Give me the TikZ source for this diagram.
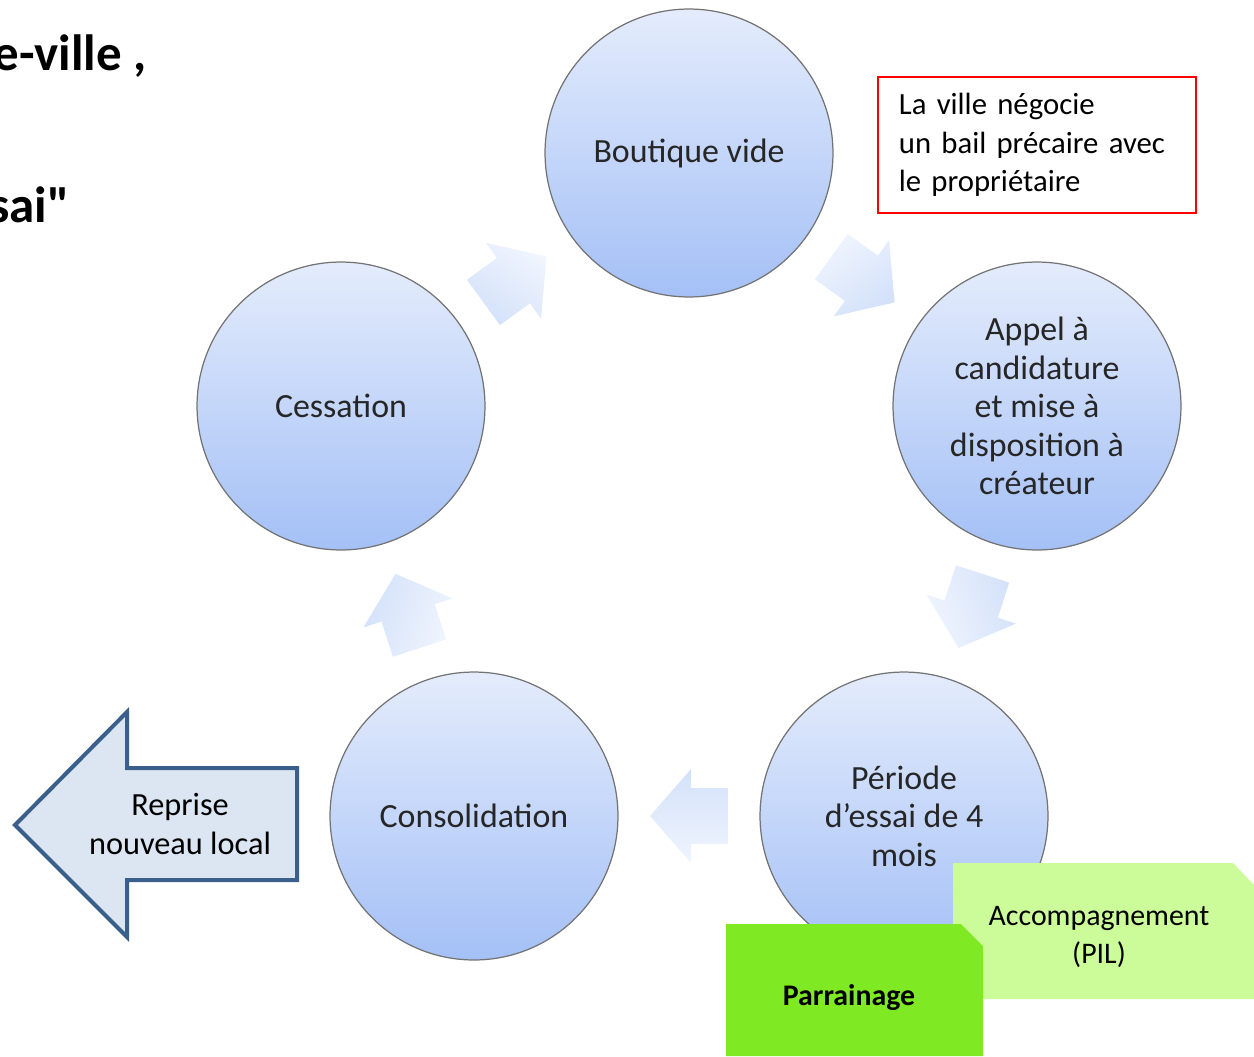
\documentclass[tikz,border=0pt]{standalone}
\usepackage{fontspec}
\setmainfont{Carlito}
\newfontfamily\titlefont{Carlito}[Ligatures=TeXOff]
\usetikzlibrary{calc}

\definecolor{circtop}{HTML}{E4ECFC}
\definecolor{circbot}{HTML}{A4C0F6}
\definecolor{arrtop}{HTML}{F0F5FE}
\definecolor{arrbot}{HTML}{D3E1F9}
\definecolor{reprfill}{HTML}{DCE6F2}
\definecolor{reprdraw}{HTML}{3A5F8B}
\definecolor{accfill}{HTML}{CCFC9A}
\definecolor{parfill}{HTML}{7FEA24}

\tikzset{
	stepcirc/.style={circle, minimum size=5.76cm, inner sep=0pt, top color=circtop, bottom color=circbot, draw=black!55, line width=0.7pt, align=center, font=\fontsize{19.3}{21.9}\selectfont, text=black!85},
	cycarrow/.style={top color=arrtop, bottom color=arrbot, draw=none},
	boxtext/.style={font=\fontsize{17}{21.9}\selectfont, align=center, inner sep=0pt},
	titletext/.style={anchor=base east, font=\titlefont\fontsize{29}{30}\selectfont\bfseries}
}

\begin{document}
\begin{tikzpicture}[x=0.02cm, y=-0.02cm]
	\useasboundingbox (0,0) rectangle (1254,1056);
	\clip (0,0) rectangle (1254,1056);

	%Title (cut off on the left)
	\node[titletext] (titleA) at (153,70) {e-ville ,};
	\node[titletext] (titleB) at (5,146) {e};
	\node[titletext] (titleC) at (76,222) {sai"};

	%Steps
	\node[stepcirc] (boutique) at (689,153) {Boutique vide};
	\node[stepcirc] (appel) at (1037,406) {Appel à\\candidature\\et mise à\\disposition à\\créateur};
	\node[stepcirc] (periode) at (904,816) {Période\\d’essai de 4\\mois};
	\node[stepcirc] (conso) at (474,816) {Consolidation};
	\node[stepcirc] (cessation) at (341,406) {Cessation};

	%Arrows
	\foreach \a/\b/\ang in {boutique/appel/-36, appel/periode/-108, periode/conso/180, conso/cessation/108, cessation/boutique/36}{
		\begin{scope}[shift={($(\a)!0.5!(\b)$)}, rotate=\ang]
			\shade[cycarrow, shading angle=-\ang] (-39,-28) -- (-2,-28) -- (-2,-47) -- (39,0) -- (-2,47) -- (-2,28) -- (-39,28) -- cycle;
		\end{scope}
	}

	%Note
	\node[draw=red, line width=1pt, anchor=north west, minimum width=6.36cm, minimum height=2.72cm, text width=5.52cm, inner xsep=0.42cm, align=left, font=\fontsize{17.5}{21.9}\selectfont] (note) at (877,76) {La ville négocie\\un bail précaire avec\\le propriétaire};

	%Reprise
	\draw[draw=reprdraw, fill=reprfill, line width=0.08cm, line join=miter] (15,825) -- (127,712) -- (127,768) -- (297,768) -- (297,880) -- (127,880) -- (127,937) -- cycle;
	\node[boxtext, font=\fontsize{18.4}{21.9}\selectfont] (reprise) at (180,824) {Reprise\\nouveau local};

	%Support
	\fill[accfill] (953,863) -- (1233,863) -- (1254,885) -- (1254,999) -- (953,999) -- cycle;
	\node[boxtext] (accomp) at (1099,937) {Accompagnement\\(PIL)};
	\fill[parfill] (726,924) -- (961,924) -- (983,946) -- (983,1056) -- (726,1056) -- cycle;
	\node[boxtext, font=\fontsize{17}{21.9}\selectfont\bfseries] (parrain) at (849,998) {Parrainage};
\end{tikzpicture}
\end{document}
